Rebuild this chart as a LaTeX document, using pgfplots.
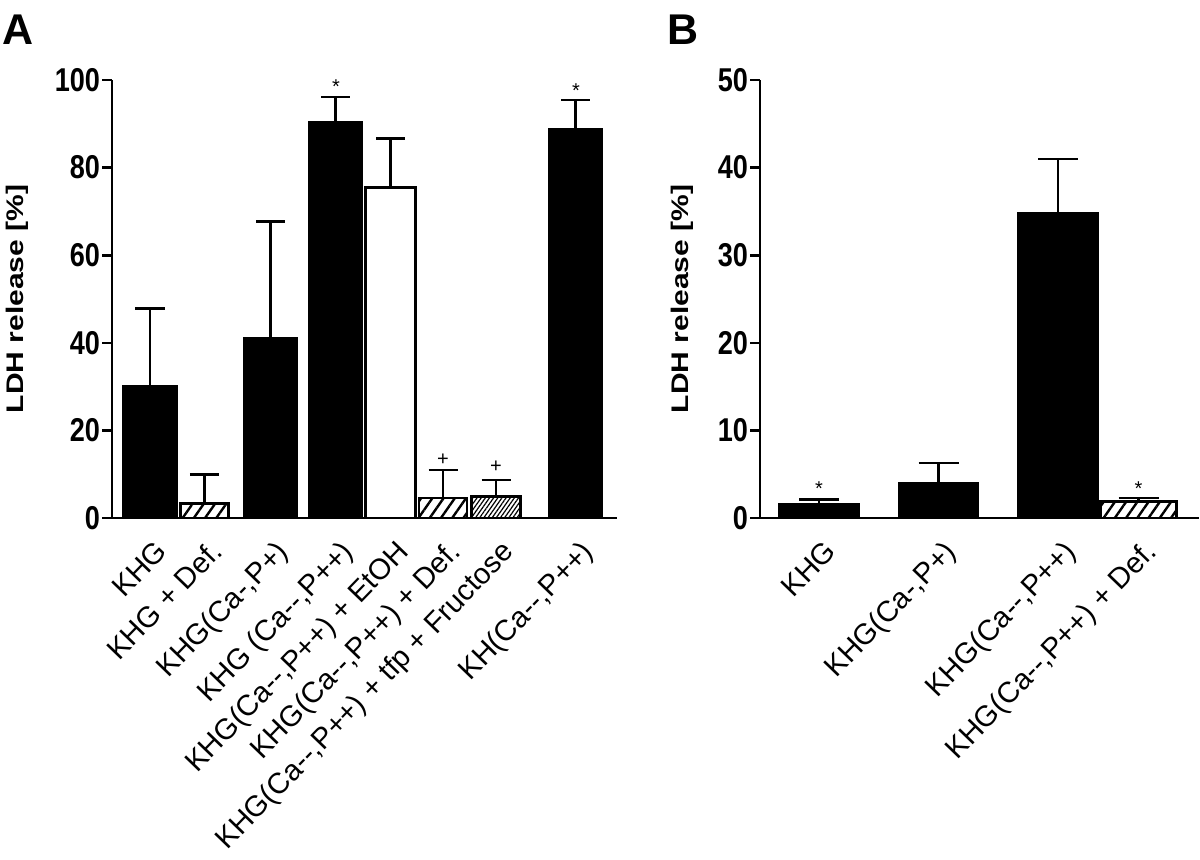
\documentclass[border=0pt]{standalone}
\usepackage{fontspec}
\setmainfont{Liberation Sans}
\usepackage{pgfplots}
\pgfplotsset{compat=1.18}
\usetikzlibrary{patterns.meta}
\pgfplotsset{
 myaxis/.style={
  scale only axis,
  axis x line*=bottom, axis y line*=left,
  axis line style={line width=1.3pt, black},
  ymin=0,
  ytick style={line width=1.3pt, black},
  major tick length=5pt,
  tick align=outside,
  xtick style={draw=none},
  /pgf/number format/assume math mode=true,
  yticklabel style={font=\bfseries\fontsize{16.5}{18}\selectfont, xscale=0.82, inner sep=1pt},
  xticklabel style={font=\fontsize{14.6}{17}\selectfont, xshift=2pt, yshift=-5pt, rotate=46, anchor=north east, inner sep=0pt},
  ylabel={LDH release [\%]},
  ylabel style={font=\bfseries\fontsize{15}{17}\selectfont, anchor=center, yscale=0.8},
  clip=false,
  ybar,
  error bars/y dir=plus, error bars/y explicit,
  error bars/error bar style={line width=1.3pt, black},
 },
 blackbar/.style={fill=black, draw=black, line width=1.3pt, bar shift=0pt},
 whitebar/.style={fill=white, draw=black, line width=1.3pt, bar shift=0pt},
 hatchbar/.style={draw=black, line width=1.3pt, bar shift=0pt, pattern={Lines[angle=55,distance=4.6pt,line width=1.2pt]}},
 densebar/.style={draw=black, line width=1.3pt, bar shift=0pt, pattern={Lines[angle=55,distance=1.7pt,line width=0.6pt]}},
}
\begin{document}
\begin{tikzpicture}
\path[use as bounding box] (0,0) rectangle (600pt,-429.5pt);
% Panel A
\begin{axis}[myaxis,
  at={(56pt,-259pt)}, anchor=south west,
  width=252.5pt, height=219pt,
  xmin=112, xmax=617, ymax=100,
  ytick={0,20,40,60,80,100},
  ylabel style={at={(axis description cs:-0.188,0.5)}},
  xtick={150,204.5,270.5,335.5,390.5,443,496,575.5},
  xticklabels={{KHG},{KHG + Def.},{KHG(Ca-,P+)},{KHG (Ca-{}-,P++)},{KHG(Ca-{}-,P++) + EtOH},{KHG(Ca-{}-,P++) + Def.},{KHG(Ca-{}-,P++) + tfp + Fructose},{KH(Ca-{}-,P++)}},
  error bars/error mark options={rotate=90, line width=1.3pt, mark size=7.25pt, black},
]
\addplot[blackbar, bar width=52.5] coordinates {(150,30.0) +- (0,17.8) (270.5,41.1) +- (0,26.6) (335.5,90.3) +- (0,5.8) (575.5,88.8) +- (0,6.6)};
\addplot[hatchbar, bar width=48] coordinates {(204.5,3.3) +- (0,6.7) (443,4.6) +- (0,6.4)};
\addplot[whitebar, bar width=50.5] coordinates {(390.5,75.4) +- (0,11.2)};
\addplot[densebar, bar width=49.4] coordinates {(496,4.9) +- (0,3.8)};
\node[font=\fontsize{10}{10}\selectfont] at (axis cs:336,98.6) {*};
\node[font=\fontsize{10}{10}\selectfont] at (axis cs:576,97.6) {*};
\node[font=\fontsize{10}{10}\selectfont] at (axis cs:443,13.4) {+};
\node[font=\fontsize{10}{10}\selectfont] at (axis cs:496,11.6) {+};
\end{axis}
% Panel B
\begin{axis}[myaxis,
  at={(380pt,-259pt)}, anchor=south west,
  width=219.5pt, height=219pt,
  xmin=760, xmax=1199, ymax=50,
  ytick={0,10,20,30,40,50},
  ylabel style={at={(axis description cs:-0.177,0.5)}},
  xtick={819,938.5,1058,1138.5},
  xticklabels={{KHG},{KHG(Ca-,P+)},{KHG(Ca-{}-,P++)},{KHG(Ca-{}-,P++) + Def.}},
  error bars/error mark options={rotate=90, line width=1.3pt, mark size=10pt, black},
]
\addplot[blackbar, bar width=79] coordinates {(819,1.6) +- (0,0.5) (938.5,4.0) +- (0,2.3) (1058,34.8) +- (0,6.2)};
\addplot[hatchbar, bar width=76.5] coordinates {(1138.5,1.9) +- (0,0.4)};
\node[font=\fontsize{10}{10}\selectfont] at (axis cs:819,3.3) {*};
\node[font=\fontsize{10}{10}\selectfont] at (axis cs:1138.5,3.3) {*};
\end{axis}
\node[font=\bfseries\fontsize{21.5}{22}\selectfont] at (9pt,-15pt) {A};
\node[font=\bfseries\fontsize{21.5}{22}\selectfont] at (341.5pt,-15pt) {B};
\end{tikzpicture}
\end{document}
